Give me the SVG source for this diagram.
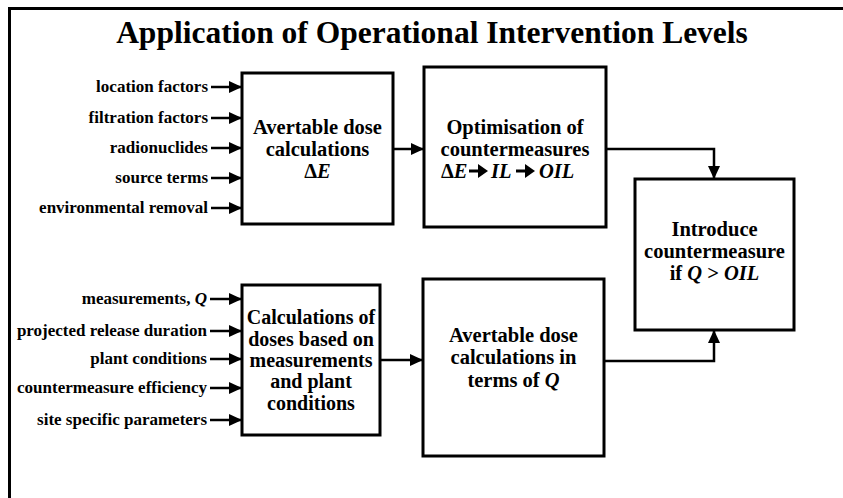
<svg xmlns="http://www.w3.org/2000/svg" width="843" height="498" viewBox="0 0 843 498" font-family="'Liberation Serif', 'Times New Roman', Times, 'DejaVu Serif', serif" font-weight="bold">
<defs>
<marker id="ah" markerUnits="userSpaceOnUse" markerWidth="14" markerHeight="12" refX="13" refY="6" orient="auto">
<path d="M0,0 L13,6 L0,12 Z" fill="#000"/>
</marker>
<style>
text{fill:#000}
.lbl{font-size:17px;text-anchor:end}
.bx{font-size:20.5px;text-anchor:middle}
.bs{font-size:20px;text-anchor:middle}
.i{font-style:italic}
.n{fill:#fff;stroke:#000;stroke-width:3}
.c{fill:none;stroke:#000;stroke-width:2.5;marker-end:url(#ah)}
</style>
</defs>
<rect width="843" height="498" fill="#fff"/>
<path d="M9.5,498 V8.5 H843" fill="none" stroke="#000" stroke-width="3"/>
<text x="432" y="43" style="font-size:31.5px;text-anchor:middle">Application of Operational Intervention Levels</text>

<g id="n1">
<rect class="n" x="242" y="73" width="151" height="151"/>
<text class="bx" x="317.5" y="134">Avertable dose</text>
<text class="bx" x="317.5" y="156">calculations</text>
<text class="bx" x="317.5" y="178">Δ<tspan class="i">E</tspan></text>
</g>
<g id="n2">
<rect class="n" x="424" y="67" width="182" height="160"/>
<text class="bx" x="515" y="134">Optimisation of</text>
<text class="bx" x="515" y="156">countermeasures</text>
<text x="441" y="178" style="font-size:20.5px">Δ<tspan class="i">E</tspan></text>
<text x="491" y="178" class="i" style="font-size:20.5px">IL</text>
<text x="539" y="178" class="i" style="font-size:20.5px">OIL</text>
<path d="M469,171 H480" stroke="#000" stroke-width="3"/>
<path d="M478,164 L488,171 L478,178 Z" fill="#000"/>
<path d="M516,171 H527" stroke="#000" stroke-width="3"/>
<path d="M525,164 L535,171 L525,178 Z" fill="#000"/>
</g>
<g id="n3">
<rect class="n" x="242" y="285" width="138" height="150"/>
<text class="bs" x="311" y="324">Calculations of</text>
<text class="bs" x="311" y="346">doses based on</text>
<text class="bs" x="311" y="367">measurements</text>
<text class="bs" x="311" y="388">and plant</text>
<text class="bs" x="311" y="410">conditions</text>
</g>
<g id="n4">
<rect class="n" x="423" y="279" width="181" height="177"/>
<text class="bx" x="513.5" y="342">Avertable dose</text>
<text class="bx" x="513.5" y="364">calculations in</text>
<text class="bx" x="513.5" y="387">terms of <tspan class="i">Q</tspan></text>
</g>
<g id="n5">
<rect class="n" x="635" y="179" width="159" height="151"/>
<text class="bx" x="714.5" y="236">Introduce</text>
<text class="bx" x="714.5" y="258">countermeasure</text>
<text class="bx" x="714.5" y="280">if <tspan class="i">Q</tspan> &gt; <tspan class="i">OIL</tspan></text>
</g>

<g id="inputs">
<text class="lbl" x="208" y="92">location factors</text>
<text class="lbl" x="208" y="123">filtration factors</text>
<text class="lbl" x="208" y="153">radionuclides</text>
<text class="lbl" x="208" y="183">source terms</text>
<text class="lbl" x="208" y="213">environmental removal</text>
<text class="lbl" x="207" y="304">measurements, <tspan class="i">Q</tspan></text>
<text class="lbl" x="207" y="336">projected release duration</text>
<text class="lbl" x="207" y="364">plant conditions</text>
<text class="lbl" x="207" y="393">countermeasure efficiency</text>
<text class="lbl" x="207" y="425">site specific parameters</text>
</g>

<g id="connectors">
<path class="c" d="M211,87 H242"/>
<path class="c" d="M211,118 H242"/>
<path class="c" d="M211,148 H242"/>
<path class="c" d="M211,178 H242"/>
<path class="c" d="M211,208 H242"/>
<path class="c" d="M210,299 H242"/>
<path class="c" d="M210,331 H242"/>
<path class="c" d="M210,359 H242"/>
<path class="c" d="M210,388 H242"/>
<path class="c" d="M210,420 H242"/>
<path class="c" d="M393,149 H424"/>
<path class="c" d="M380,360 H423"/>
<path class="c" d="M606,149 H714 V179"/>
<path class="c" d="M604,361 H714 V330"/>
</g>
</svg>
